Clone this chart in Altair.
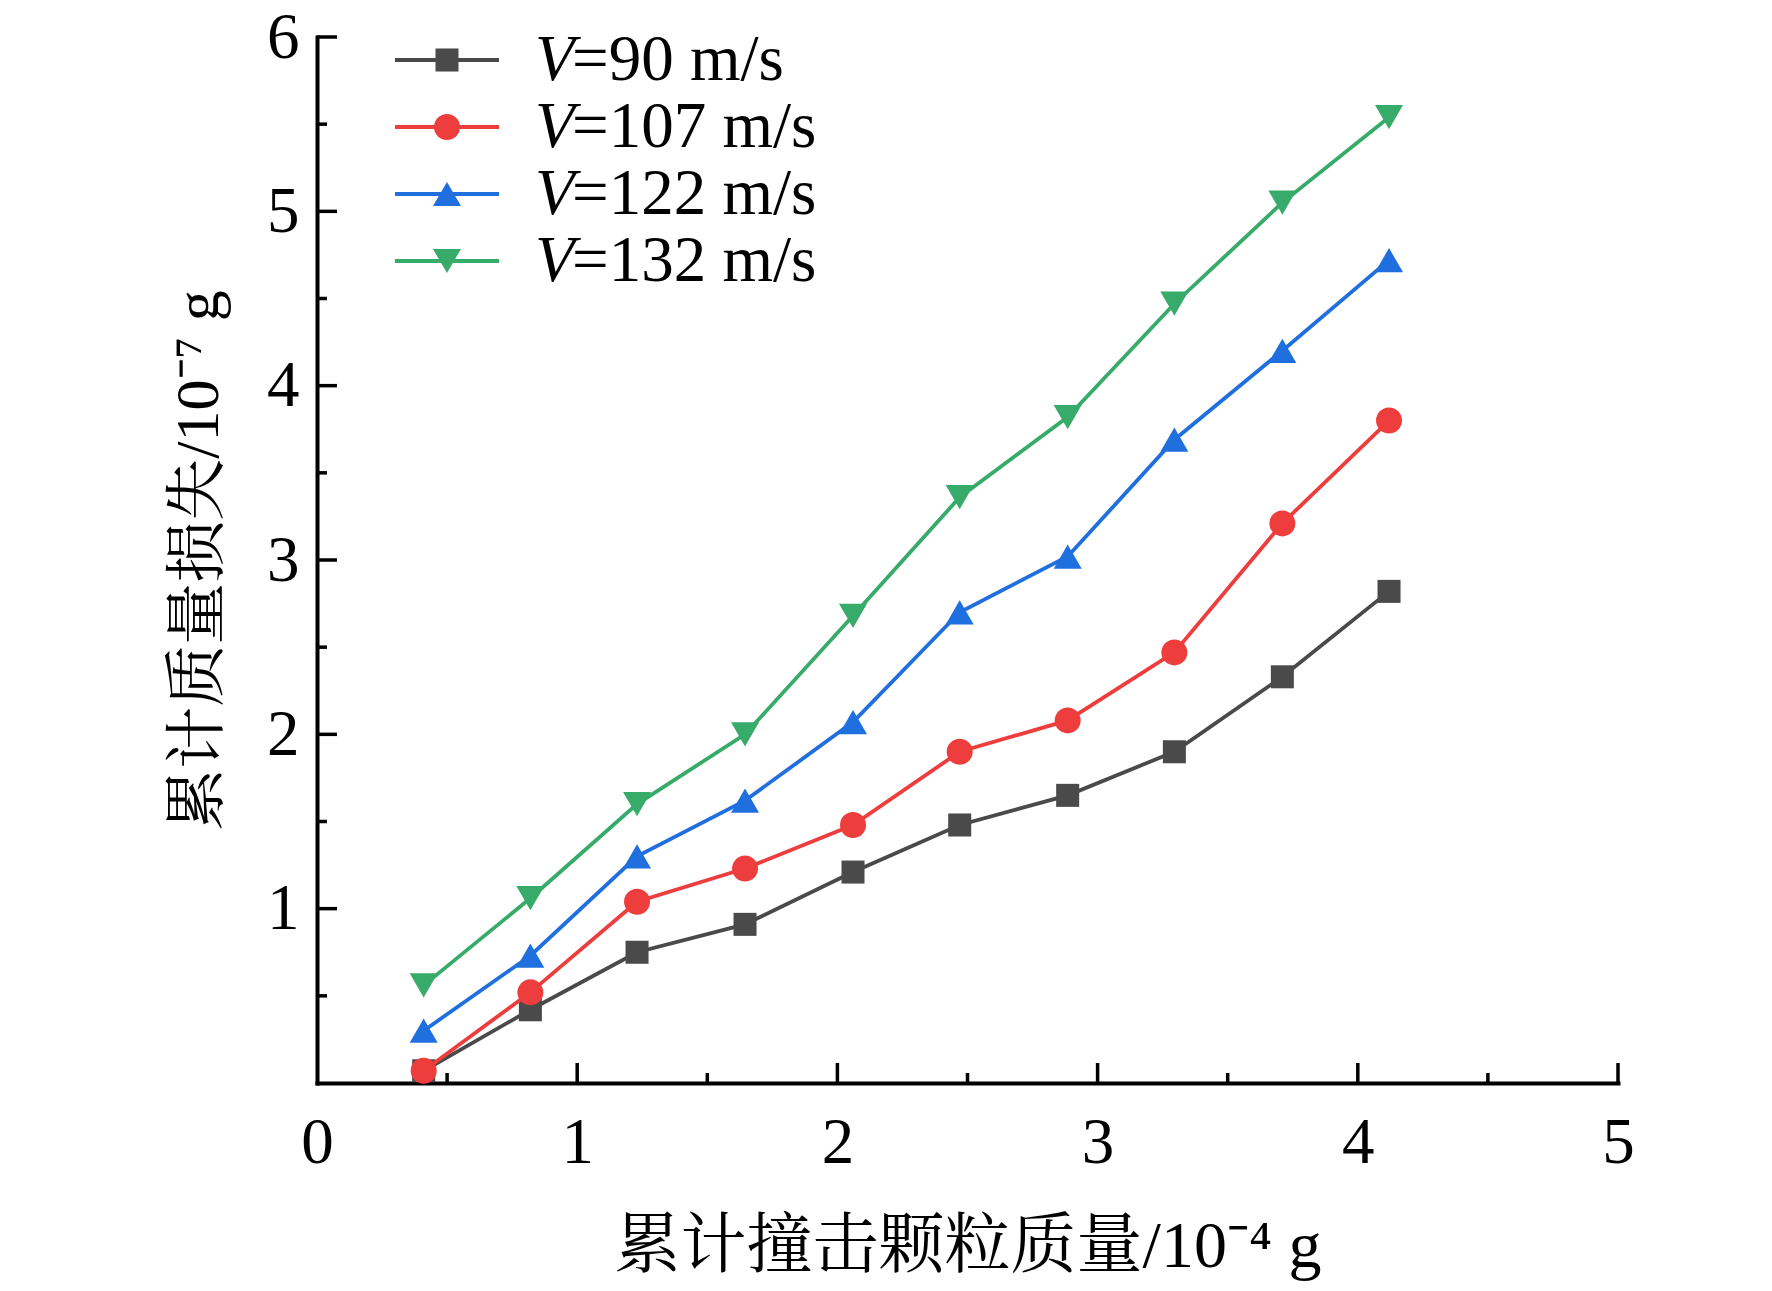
import altair as alt
import pandas as pd

# ---- data ----
speeds = [90, 107, 122, 132]
x_vals = [0.41, 0.82, 1.23, 1.645, 2.06, 2.47, 2.885, 3.295, 3.71, 4.12]
loss_90 = [0.07, 0.42, 0.75, 0.91, 1.21, 1.48, 1.65, 1.90, 2.33, 2.82]
loss_107 = [0.07, 0.52, 1.04, 1.23, 1.48, 1.90, 2.08, 2.47, 3.21, 3.80]
loss_122 = [0.30, 0.73, 1.30, 1.62, 2.07, 2.70, 3.02, 3.69, 4.20, 4.72]
loss_132 = [0.56, 1.06, 1.60, 2.00, 2.68, 3.36, 3.82, 4.47, 5.05, 5.54]
losses = [loss_90, loss_107, loss_122, loss_132]

colors = ["#4a4a4a", "#ee3d3d", "#1f6fdf", "#37ab69"]
shapes = ["square", "circle", "triangle-up", "triangle-down"]
sizes = [530, 676, 784, 784]

x_major = [1, 2, 3, 4, 5]
x_minor = [0.5, 1.5, 2.5, 3.5, 4.5]
y_major = [1, 2, 3, 4, 5, 6]
y_minor = [0.5, 1.5, 2.5, 3.5, 4.5, 5.5]
x_labels = [0, 1, 2, 3, 4, 5]
y_labels = [1, 2, 3, 4, 5, 6]

x_title = "累计撞击颗粒质量/10⁻⁴ g"
y_title = "累计质量损失/10⁻⁷ g"

W, H = 1301, 1046
SERIF = "Liberation Serif, Noto Serif CJK SC, Noto Sans CJK SC, serif"

xscale = alt.Scale(domain=[0, 5], nice=False, zero=False)
yscale = alt.Scale(domain=[0, 6], nice=False, zero=False)

xaxis = alt.Axis(
    values=x_labels, title=x_title, grid=False, ticks=False, tickSize=0,
    domainWidth=4, domainColor="black", domainCap="square",
    labelFont=SERIF, labelFontSize=65, labelColor="black", labelPadding=28,
    labelFlush=False, labelOverlap=False, format="d",
    titleFont=SERIF, titleFontSize=66, titleFontWeight="normal",
    titleColor="black", titlePadding=39,
)
yaxis = alt.Axis(
    values=y_labels, title=y_title, grid=False, ticks=False, tickSize=0,
    domainWidth=4, domainColor="black", domainCap="square",
    labelFont=SERIF, labelFontSize=65, labelColor="black", labelPadding=18,
    labelFlush=False, labelOverlap=False, format="d",
    titleFont=SERIF, titleFontSize=62, titleFontWeight="normal",
    titleColor="black", titlePadding=36,
)


def X(field="x"):
    return alt.X(f"{field}:Q", scale=xscale, axis=xaxis)


def Y(field="y"):
    return alt.Y(f"{field}:Q", scale=yscale, axis=yaxis)


layers = []

# inward ticks on x-axis
xt_major = pd.DataFrame({"x": x_major})
xt_minor = pd.DataFrame({"x": x_minor})
layers.append(alt.Chart(xt_major).mark_rule(color="black", strokeWidth=3.5).encode(
    x=X(), y=alt.value(H), y2=alt.value(H - 20)))
layers.append(alt.Chart(xt_minor).mark_rule(color="black", strokeWidth=3.5).encode(
    x=X(), y=alt.value(H), y2=alt.value(H - 10)))
# inward ticks on y-axis
yt_major = pd.DataFrame({"y": y_major})
yt_minor = pd.DataFrame({"y": y_minor})
layers.append(alt.Chart(yt_major).mark_rule(color="black", strokeWidth=3.5).encode(
    y=Y(), x=alt.value(0), x2=alt.value(20)))
layers.append(alt.Chart(yt_minor).mark_rule(color="black", strokeWidth=3.5).encode(
    y=Y(), x=alt.value(0), x2=alt.value(10)))

for sp, vals, col, shp, sz in zip(speeds, losses, colors, shapes, sizes):
    df = pd.DataFrame({"x": x_vals, "y": vals})
    base = alt.Chart(df)
    layers.append(base.mark_line(color=col, strokeWidth=3.8).encode(x=X(), y=Y()))
    layers.append(base.mark_point(color=col, shape=shp, size=sz, filled=True,
                                  opacity=1).encode(x=X(), y=Y()))

main = alt.layer(*layers)

# ---- legend ----
leg_layers = []
for i, (sp, col, shp, sz) in enumerate(zip(speeds, colors, shapes, sizes)):
    ldf = pd.DataFrame({"idx": [i], "rest": [f"={sp} m/s"]})
    ly = alt.Y("idx:Q", scale=alt.Scale(domain=[0, 3], range=[23, 224]), axis=None)
    lb = alt.Chart(ldf)
    leg_layers.append(lb.mark_rule(color=col, strokeWidth=3.8).encode(
        y=ly, x=alt.value(78), x2=alt.value(182)))
    leg_layers.append(lb.mark_point(color=col, shape=shp, size=sz, filled=True,
                                    opacity=1).encode(y=ly, x=alt.value(130)))
    leg_layers.append(lb.mark_text(text="V", font="Liberation Serif", fontStyle="italic",
                                   fontSize=65, align="left", baseline="middle",
                                   color="black").encode(y=ly, x=alt.value(218)))
    leg_layers.append(lb.mark_text(font="Liberation Serif", fontSize=65, align="left",
                                   baseline="middle", color="black").encode(
        y=ly, x=alt.value(255), text="rest:N"))

legend = alt.layer(*leg_layers)

chart = alt.layer(main, legend).resolve_scale(y="independent").properties(
    width=W, height=H,
    autosize=alt.AutoSizeParams(type="none"),
    padding={"left": 309, "top": 29, "right": 140, "bottom": 200},
    background="white",
).configure_view(stroke=None)

chart.save("out.html", embed_options={"renderer": "svg", "actions": False})
